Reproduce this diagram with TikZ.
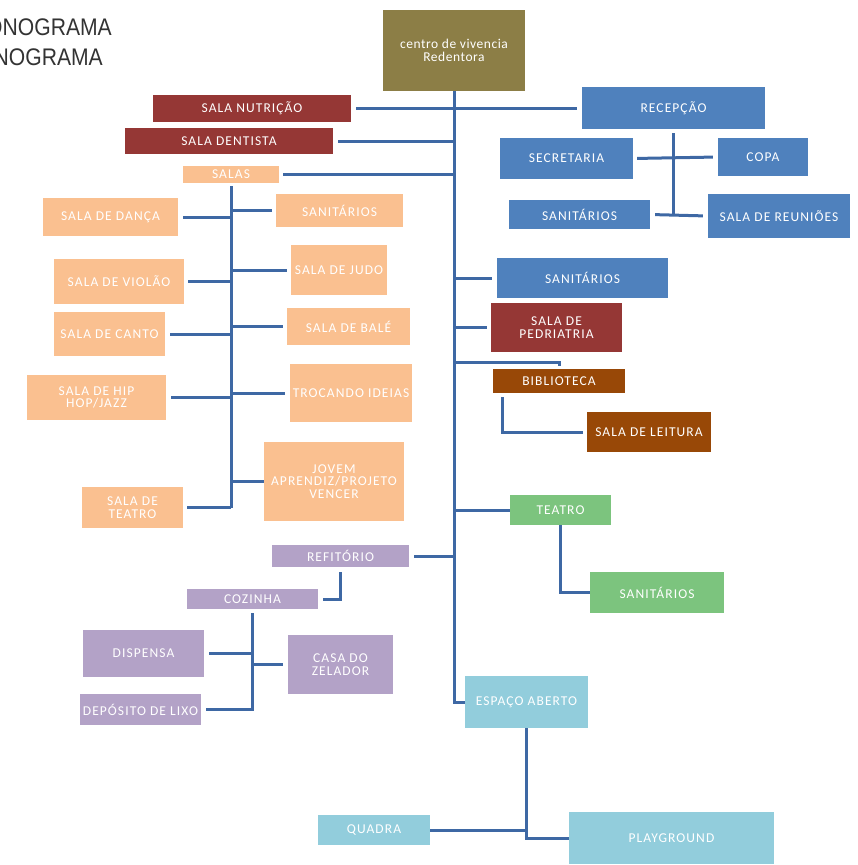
\documentclass[tikz,border=0pt]{standalone}
\usepackage{fontspec}
\setmainfont{Carlito}[LetterSpace=8]
\newfontfamily\titlefont{Liberation Sans}[FakeStretch=0.88]
\usetikzlibrary{calc}
\definecolor{olive}{RGB}{140,126,70}
\definecolor{dred}{RGB}{149,55,53}
\definecolor{mblue}{RGB}{79,129,189}
\definecolor{peach}{RGB}{250,192,144}
\definecolor{brown}{RGB}{152,72,7}
\definecolor{lgreen}{RGB}{124,196,126}
\definecolor{lpurple}{RGB}{179,162,199}
\definecolor{lblue}{RGB}{146,205,220}
\definecolor{lnc}{RGB}{62,104,164}
\tikzset{
  box/.style={rectangle, inner sep=0pt, text=white, align=center,
    font=\fontsize{13.5}{12.5}\selectfont},
  ln/.style={draw=lnc, line width=3pt},
}
\newcommand\bx[7]{\node[box,fill=#6,minimum width={#4pt-#2pt},minimum height={#5pt-#3pt}] (#1) at ({(#2+#4)/2},{(#3+#5)/2}) {#7};}
\begin{document}
\begin{tikzpicture}[x=1pt,y=-1pt]
\useasboundingbox (0,0) rectangle (858,865);
\clip (0,0) rectangle (858,865);
% title fragments
\node[anchor=base east, inner sep=0pt, text=black!80, font=\titlefont\fontsize{24}{24}\selectfont] (t1) at (112,35) {ONOGRAMA};
\node[anchor=base east, inner sep=0pt, text=black!80, font=\titlefont\fontsize{24}{24}\selectfont] (t2) at (103,65) {NOGRAMA};
% boxes
\bx{centro}{383}{10}{525}{91}{olive}{\addfontfeature{LetterSpace=4}centro de vivencia\\\addfontfeature{LetterSpace=4}Redentora}
\bx{nutri}{153}{95}{351}{122}{dred}{SALA NUTRIÇÃO}
\bx{recep}{582}{87}{765}{129}{mblue}{RECEPÇÃO}
\bx{dent}{125}{128}{333}{154}{dred}{SALA DENTISTA}
\bx{salas}{183}{166}{279}{183}{peach}{SALAS}
\bx{secr}{500}{138}{633}{179}{mblue}{SECRETARIA}
\bx{copa}{718}{138}{808}{176}{mblue}{COPA}
\bx{sanR}{509}{200}{650}{229}{mblue}{SANITÁRIOS}
\bx{reun}{708}{194}{850}{238}{mblue}{SALA DE REUNIÕES}
\bx{sanB}{497}{258}{668}{298}{mblue}{SANITÁRIOS}
\bx{pedr}{491}{303}{622}{352}{dred}{SALA DE\\PEDRIATRIA}
\bx{bibl}{493}{369}{625}{393}{brown}{BIBLIOTECA}
\bx{leit}{587}{412}{711}{452}{brown}{SALA DE LEITURA}
\bx{teat}{510}{495}{611}{525}{lgreen}{TEATRO}
\bx{sanG}{590}{572}{724}{613}{lgreen}{SANITÁRIOS}
\bx{refi}{272}{545}{409}{567}{lpurple}{REFITÓRIO}
\bx{cozi}{187}{589}{318}{609}{lpurple}{COZINHA}
\bx{disp}{83}{630}{204}{677}{lpurple}{DISPENSA}
\bx{zela}{288}{635}{393}{694}{lpurple}{CASA DO\\ZELADOR}
\bx{lixo}{80}{694}{201}{725}{lpurple}{DEPÓSITO DE LIXO}
\bx{espa}{465}{676}{588}{728}{lblue}{ESPAÇO ABERTO}
\bx{quad}{318}{815}{430}{845}{lblue}{QUADRA}
\bx{play}{569}{812}{774}{864}{lblue}{PLAYGROUND}
% salas subtree
\bx{danc}{43}{198}{178}{236}{peach}{SALA DE DANÇA}
\bx{viol}{54}{259}{184}{304}{peach}{SALA DE VIOLÃO}
\bx{cant}{54}{312}{165}{356}{peach}{SALA DE CANTO}
\bx{hiph}{27}{375}{166}{420}{peach}{SALA DE HIP\\HOP/JAZZ}
\bx{stea}{82}{487}{183}{528}{peach}{SALA DE\\TEATRO}
\bx{sanP}{276}{194}{403}{227}{peach}{SANITÁRIOS}
\bx{judo}{291}{245}{387}{295}{peach}{SALA DE JUDO}
\bx{bale}{287}{308}{410}{345}{peach}{SALA DE BALÉ}
\bx{troc}{290}{364}{412}{422}{peach}{TROCANDO IDEIAS}
\bx{jove}{264}{442}{404}{521}{peach}{JOVEM\\APRENDIZ/PROJETO\\VENCER}
% trunk
\draw[ln] (centro.south) |- (espa.west);
\draw[ln, shorten <=5pt] (nutri.east) -- (nutri.east -| centro.south);
\draw[ln, shorten >=5pt] (recep.west -| centro.south) -- (recep.west);
\draw[ln, shorten <=5pt] (dent.east) -- (dent.east -| centro.south);
\draw[ln, shorten <=4pt] (salas.east) -- (salas.east -| centro.south);
\draw[ln, shorten >=5pt] (sanB.west -| centro.south) -- (sanB.west);
\draw[ln, shorten >=4pt] (pedr.west -| centro.south) -- (pedr.west);
\draw[ln, shorten <=3pt] (bibl.north) -- ++(0,-6) coordinate (bt) -- (bt -| centro.south);
\draw[ln] (teat.west -| centro.south) -- (teat.west);
\draw[ln, shorten <=5pt] (refi.east) -- (refi.east -| centro.south);
% recepcao subtree
\draw[ln, shorten <=4pt] (recep.south) -- (recep.south |- sanR.east);
\draw[ln, shorten <=4pt, shorten >=5pt] (secr.east) -- (copa.west);
\draw[ln, shorten <=5pt, shorten >=5pt] (sanR.east) -- (reun.west);
% biblioteca
\draw[ln, shorten <=4pt, shorten >=4pt] ($(bibl.south west)+(10,0)$) |- (leit.west);
% teatro
\draw[ln] (teat.south) |- (sanG.west);
% refitorio
\draw[ln, shorten <=5pt, shorten >=5pt] (refi.south) |- (cozi.east);
% cozinha subtree
\draw[ln, shorten <=4pt, shorten >=5pt] (cozi.south) |- (lixo.east);
\draw[ln, shorten <=5pt] (disp.east) -- (disp.east -| cozi.south);
\draw[ln, shorten >=5pt] (zela.west -| cozi.south) -- (zela.west);
% espaco aberto
\draw[ln] (espa.south) |- (play.west);
\draw[ln] (quad.east) -- (quad.east -| espa.south);
% salas subtree
\draw[ln, shorten <=3pt] (salas.south) -- (salas.south |- stea.east);
\draw[ln, shorten <=5pt] (danc.east) -- (danc.east -| salas.south);
\draw[ln, shorten <=4pt] (viol.east) -- (viol.east -| salas.south);
\draw[ln, shorten <=5pt] (cant.east) -- (cant.east -| salas.south);
\draw[ln, shorten <=5pt] (hiph.east) -- (hiph.east -| salas.south);
\draw[ln, shorten <=4pt] (stea.east) -- (stea.east -| salas.south);
\draw[ln, shorten >=4pt] (sanP.west -| salas.south) -- (sanP.west);
\draw[ln, shorten >=4pt] (judo.west -| salas.south) -- (judo.west);
\draw[ln, shorten >=4pt] (bale.west -| salas.south) -- (bale.west);
\draw[ln, shorten >=5pt] (troc.west -| salas.south) -- (troc.west);
\draw[ln] (jove.west -| salas.south) -- (jove.west);
\end{tikzpicture}
\end{document}
